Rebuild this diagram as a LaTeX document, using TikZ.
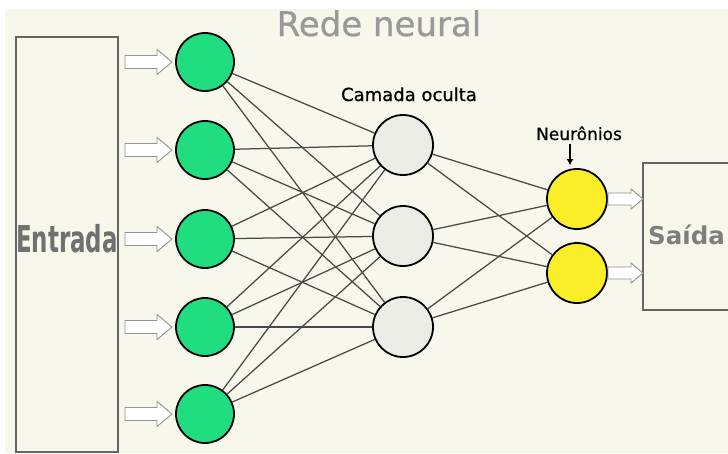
\documentclass[tikz,border=0pt]{standalone}
\usepackage{fontspec}
\usepackage{graphicx}
\setmainfont{DejaVu Sans}
\newfontfamily\realce[FakeBold=0.8]{DejaVu Sans}
\usetikzlibrary{arrows.meta}
\definecolor{fundo}{RGB}{247,247,236}
\definecolor{verde}{RGB}{32,222,128}
\definecolor{amarelo}{RGB}{250,238,40}
\definecolor{cinzaoc}{RGB}{236,236,230}
\definecolor{cinzatx}{RGB}{112,112,112}
\definecolor{cinzaln}{RGB}{72,72,72}
\tikzset{
  neuin/.style={circle,draw=black,line width=1.8pt,fill=verde,minimum size=58pt,inner sep=0pt},
  neuoc/.style={circle,draw=black,line width=1.8pt,fill=cinzaoc,minimum size=60pt,inner sep=0pt},
  neuout/.style={circle,draw=black,line width=1.8pt,fill=amarelo,minimum size=60pt,inner sep=0pt},
  caixa/.style={draw=cinzatx!90!black,line width=1.3pt,inner sep=0pt},
  ligacao/.style={draw=cinzaln,line width=1.25pt},
  seta/.style={draw=gray!85,fill=white,line width=0.9pt,line join=miter},
  rotulo/.style={inner sep=0pt,anchor=base}
}
\begin{document}
\begin{tikzpicture}[x=1pt,y=-1pt]
  \clip (0,0) rectangle (728,453);
  \fill[white] (0,0) rectangle (728,453);
  \fill[fundo] (5,9) rectangle (728,453);
  % caixas de entrada e saida
  \node[caixa,minimum width=102pt,minimum height=415pt] (cxin) at (67,244.5) {};
  \node[caixa,minimum width=100pt,minimum height=147pt] (cxout) at (693,236.5) {};
  \node[rotulo,text=cinzatx] (entrada) at (67,252) {\scalebox{0.62}[1]{\fontsize{37}{42}\selectfont\bfseries Entrada}};
  \node[rotulo,anchor=base west,text=cinzatx!90] (saida) at (648,244) {\fontsize{24.5}{30}\selectfont\bfseries Saída};
  % titulo e legendas
  \node[rotulo,text=gray!80] (titulo) at (379,36) {\fontsize{34}{40}\realce Rede neural};
  \node[rotulo] (oculta) at (409,101) {\fontsize{18}{22}\realce Camada oculta};
  \node[rotulo] (neur) at (579,140) {\fontsize{17}{20}\realce Neurônios};
  % neuronios
  \foreach \i/\y in {1/62,2/150,3/239,4/327,5/414}
    \node[neuin] (g\i) at (205,\y) {};
  \foreach \j/\y in {1/145,2/236,3/327}
    \node[neuoc] (h\j) at (403,\y) {};
  \foreach \k/\y in {1/199,2/273}
    \node[neuout] (s\k) at (577,\y) {};
  % ligacoes
  \foreach \i in {1,...,5}
    \foreach \j in {1,2,3}
      \draw[ligacao] (g\i) -- (h\j);
  \foreach \j in {1,2,3}
    \foreach \k in {1,2}
      \draw[ligacao] (h\j) -- (s\k);
  % setas largas
  \foreach \i in {1,...,5}
    \draw[seta,shift={(g\i.center)}] (-80,-6.5) -- (-48,-6.5) -- (-48,-12.5) -- (-33,0) -- (-48,12.5) -- (-48,6.5) -- (-80,6.5) -- cycle;
  \foreach \k in {1,2}
    \draw[seta,shift={(s\k.center)}] (31,-6) -- (54,-6) -- (54,-10) -- (66,0) -- (54,10) -- (54,6) -- (31,6) -- cycle;
  \draw[-{Latex[length=6pt,width=7pt]},line width=1.4pt,shorten >=7pt] ([xshift=-9pt,yshift=-4pt]neur.base) -- ([xshift=-9pt,yshift=-4pt]neur.base |- s1.north);
\end{tikzpicture}
\end{document}
